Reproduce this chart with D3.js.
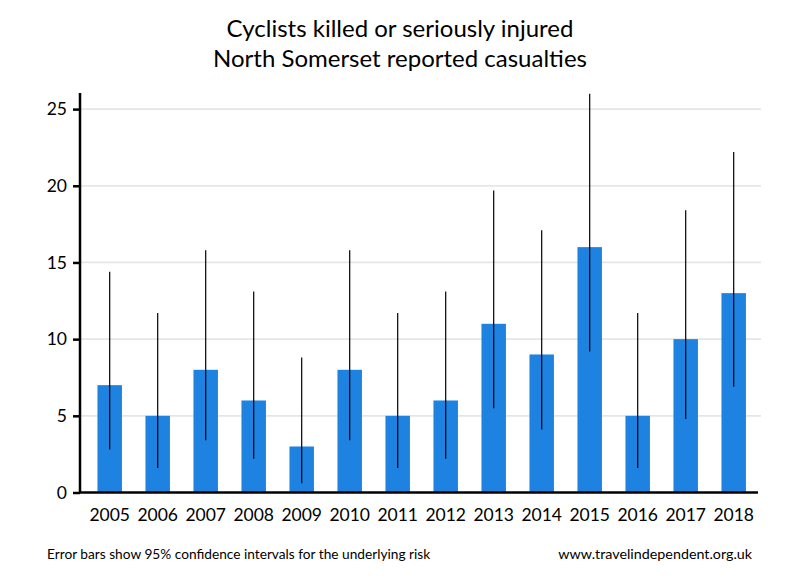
<!DOCTYPE html>
<html><head><meta charset="utf-8">
<script src="https://cdn.jsdelivr.net/npm/d3@7"></script>
<style>body{margin:0;background:#fff}svg{display:block}text{font-family:Lato,"Open Sans",sans-serif;fill:#000}</style>
</head><body>
<svg id="c" width="800" height="580"></svg>
<script>
const years = ["2005","2006","2007","2008","2009","2010","2011","2012","2013","2014","2015","2016","2017","2018"];
const casualties = [7,5,8,6,3,8,5,6,11,9,16,5,10,13];
const ciLow = [2.8,1.6,3.4,2.2,0.6,3.4,1.6,2.2,5.5,4.1,9.2,1.6,4.8,6.9];
const ciHigh = [14.4,11.7,15.8,13.1,8.8,15.8,11.7,13.1,19.7,17.1,26.0,11.7,18.4,22.2];
const yTicks = [0,5,10,15,20,25];
const titleLines = ["Cyclists killed or seriously injured","North Somerset reported casualties"];
const footLeft = "Error bars show 95% confidence intervals for the underlying risk";
const footRight = "www.travelindependent.org.uk";

const svg = d3.select("#c");
const x = d3.scaleBand().domain(years).range([85.7,757.7]).paddingInner(0.49).paddingOuter(0.245);
const y = d3.scaleLinear().domain([0,25]).range([492.5,109.1]);

// gridlines
svg.append("g").selectAll("line").data(yTicks.filter(d=>d>0)).join("line")
  .attr("x1",80).attr("x2",761).attr("y1",d=>y(d)).attr("y2",d=>y(d))
  .attr("stroke","#e6e6e6").attr("stroke-width",1.7);

// bars
svg.append("g").selectAll("rect").data(years).join("rect")
  .attr("x",d=>x(d)).attr("width",x.bandwidth())
  .attr("y",(d,i)=>y(casualties[i])).attr("height",(d,i)=>y(0)-y(casualties[i]))
  .attr("fill","#1e82e0");

// error bars
svg.append("g").selectAll("line").data(years).join("line")
  .attr("x1",d=>x(d)+x.bandwidth()/2).attr("x2",d=>x(d)+x.bandwidth()/2)
  .attr("y1",(d,i)=>y(ciLow[i])).attr("y2",(d,i)=>y(ciHigh[i]))
  .attr("stroke","#000").attr("stroke-width",1.2);

// y axis
const ya = svg.append("g").attr("transform","translate(80,0)")
  .call(d3.axisLeft(y).tickValues(yTicks).tickSize(7).tickPadding(6));
ya.select(".domain").attr("d",`M0,${y(0)}V93`).attr("stroke-width",2.5);
ya.selectAll(".tick line").attr("stroke-width",2.5);
ya.selectAll(".tick text").style("font-size","17.5px").style("font-family","Lato,sans-serif");

// x axis
const xa = svg.append("g").attr("transform",`translate(0,${y(0)})`)
  .call(d3.axisBottom(x).tickSize(0).tickPadding(16));
xa.select(".domain").attr("d","M79,0H758").attr("stroke-width",2.5);
xa.selectAll(".tick text").style("font-size","17.5px").style("font-family","Lato,sans-serif");

// title
svg.append("g").selectAll("text").data(titleLines).join("text")
  .attr("x",400).attr("y",(d,i)=>36.5+i*30).attr("text-anchor","middle")
  .style("font-size","24px").text(d=>d);

svg.append("text").attr("x",47).attr("y",559).style("font-size","13.7px").text(footLeft);
svg.append("text").attr("x",752).attr("y",559).attr("text-anchor","end").style("font-size","14.3px").text(footRight);
</script>
</body></html>
